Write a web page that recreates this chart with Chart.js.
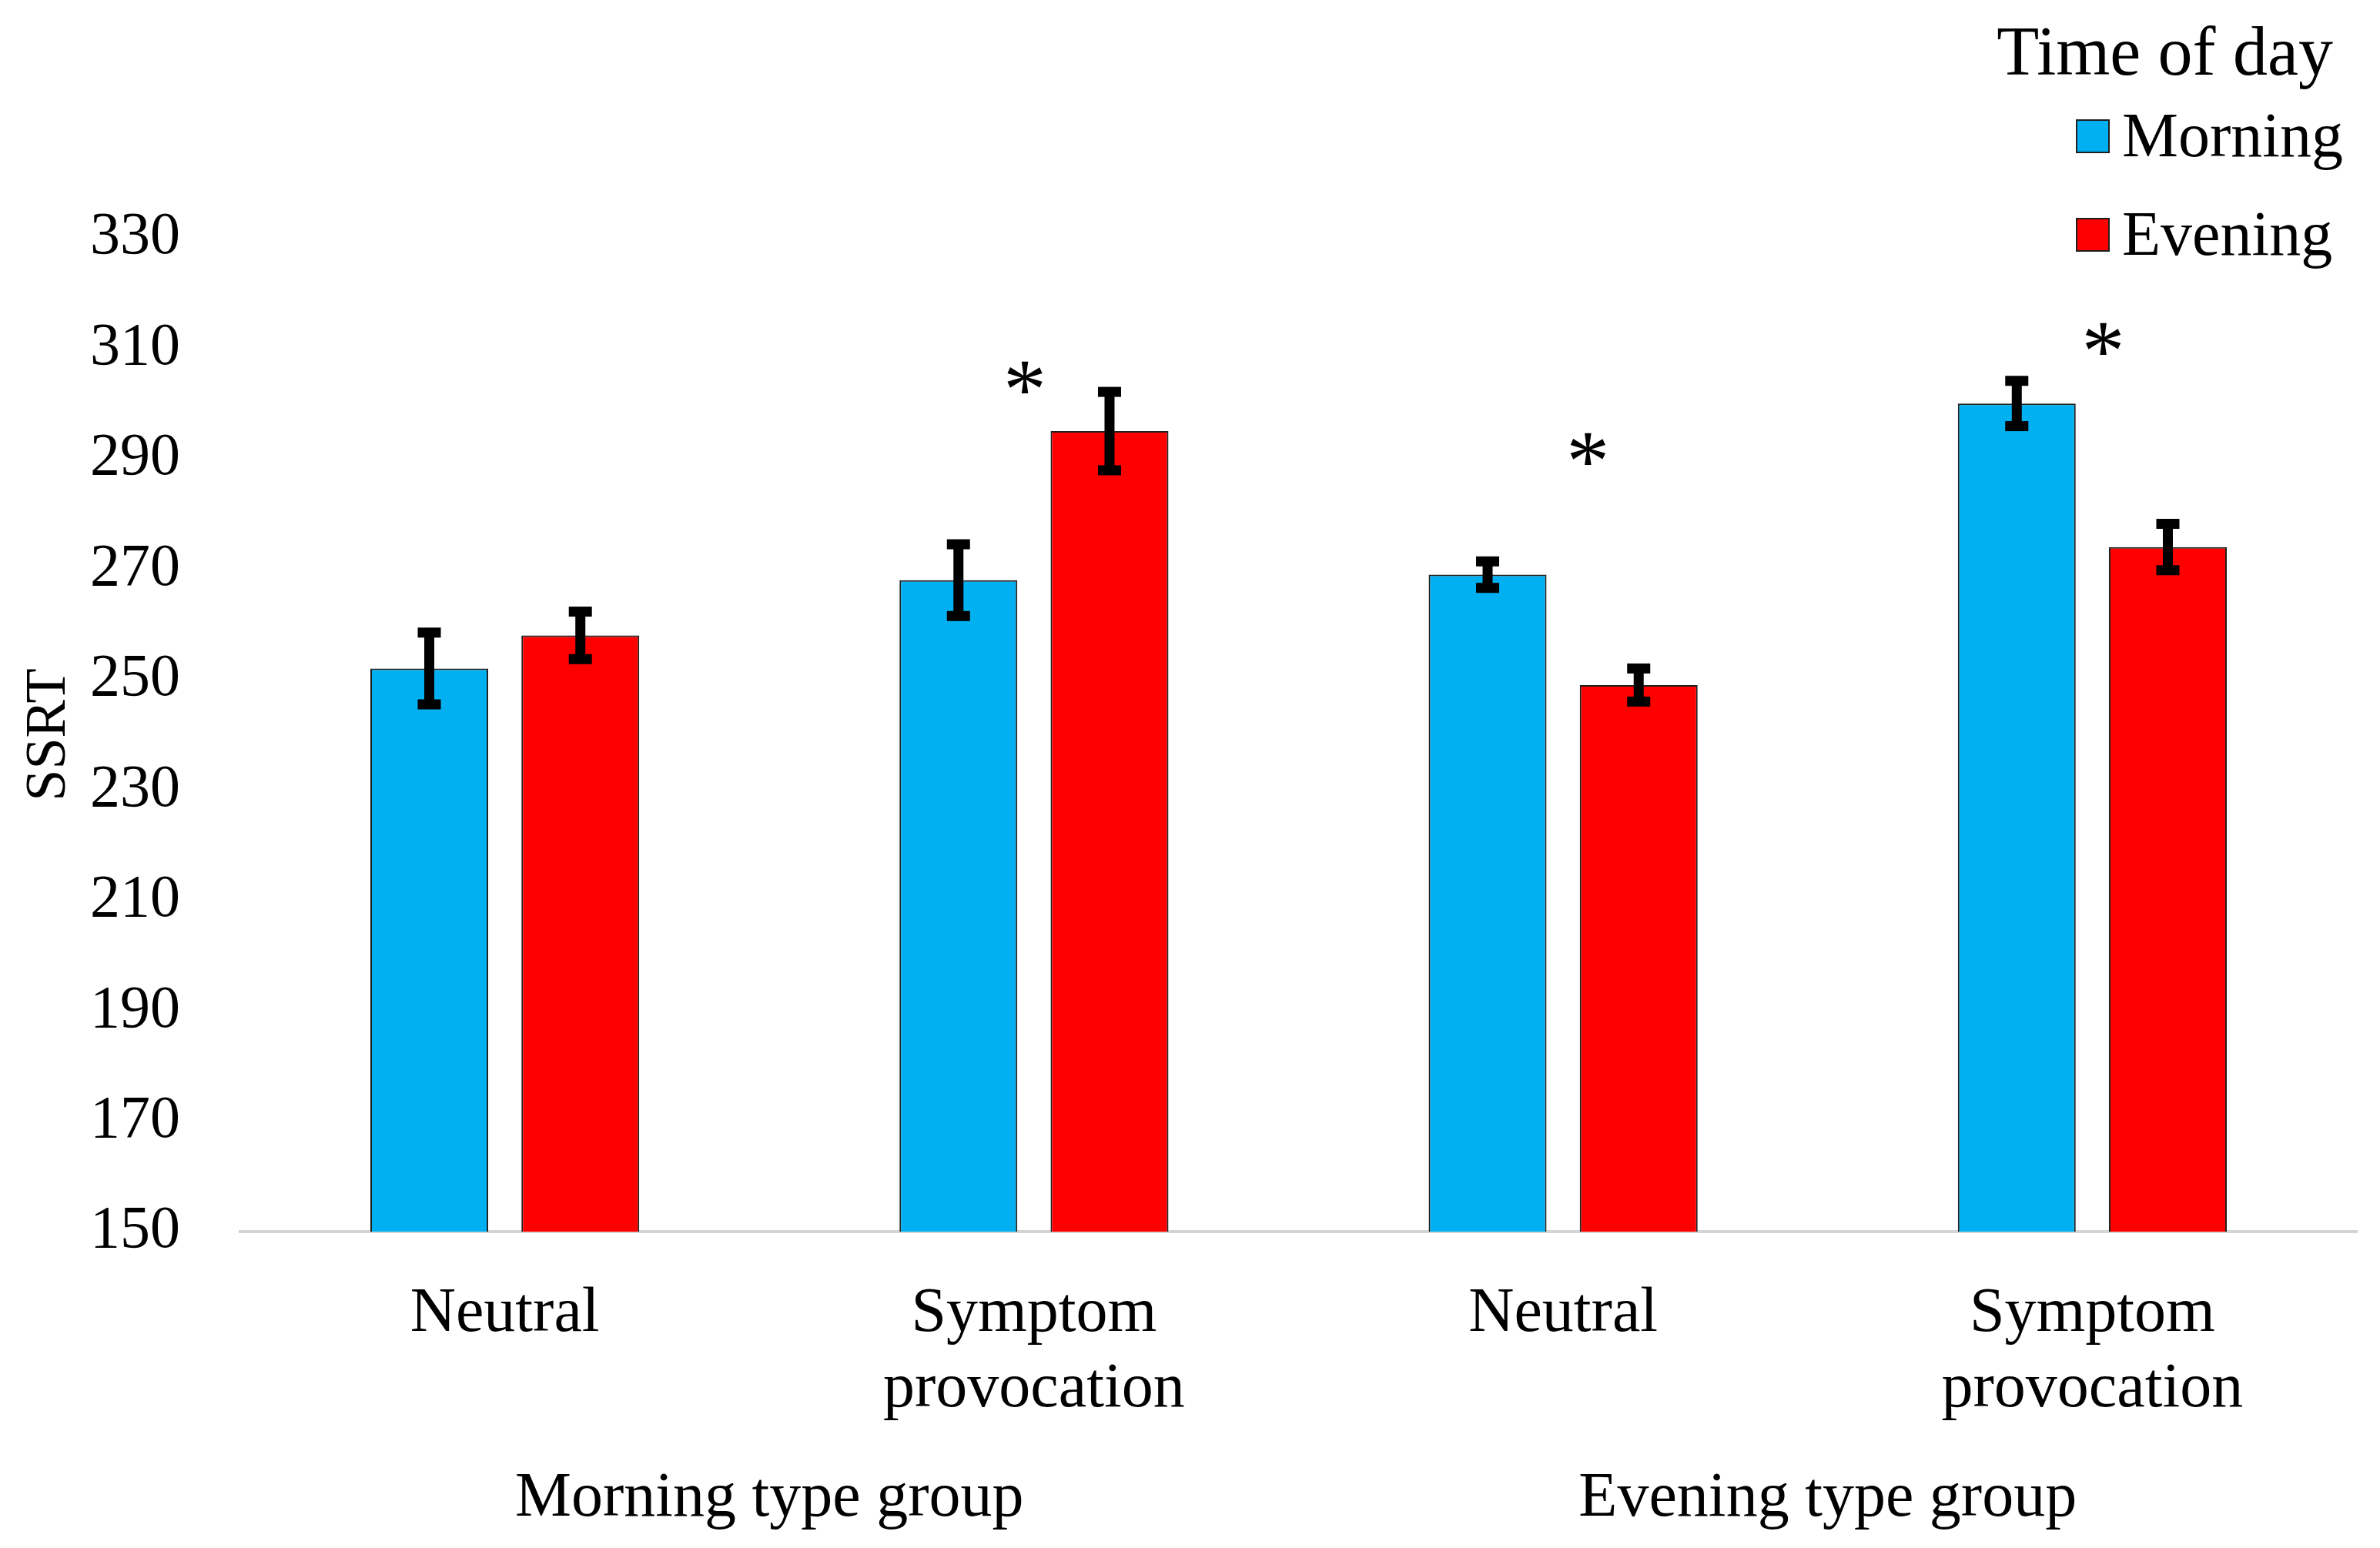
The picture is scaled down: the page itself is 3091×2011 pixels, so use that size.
<!DOCTYPE html>
<html>
<head>
<meta charset="utf-8">
<script src="https://cdn.jsdelivr.net/npm/chart.js@4.4.1/dist/chart.umd.min.js"></script>
<style>
html, body { margin: 0; padding: 0; background: #fff; }
canvas { display: block; }
</style>
</head>
<body>
<canvas id="ssrtChart" width="3091" height="2011"></canvas>
<script>
// data
var conditions = ['Neutral', ['Symptom', 'provocation'], 'Neutral', ['Symptom', 'provocation']];
var groups = ['Morning type group', 'Evening type group'];
var morningValues = [252, 268, 269, 300];
var eveningValues = [258, 295, 249, 274];
var morningErrors = [6.5, 6.5, 2.4, 4.1];
var eveningErrors = [4.3, 7.1, 3.0, 4.2];
var starCategories = [1, 2, 3];
var starValues = [305, 292, 312];

var serif = "'Liberation Serif', 'Times New Roman', serif";
Chart.defaults.font.family = serif;
Chart.defaults.color = '#000';

// error bars on top of each bar
var errorBars = {
  id: 'errorBars',
  afterDatasetsDraw: function (chart) {
    var ctx = chart.ctx;
    var y = chart.scales.y;
    var errs = [morningErrors, eveningErrors];
    ctx.save();
    ctx.fillStyle = '#000';
    chart.data.datasets.forEach(function (ds, d) {
      chart.getDatasetMeta(d).data.forEach(function (bar, i) {
        var top = y.getPixelForValue(ds.data[i] + errs[d][i]);
        var bot = y.getPixelForValue(ds.data[i] - errs[d][i]);
        ctx.fillRect(bar.x - 6.5, top, 13, bot - top);
        ctx.fillRect(bar.x - 15, top - 6.5, 30, 13);
        ctx.fillRect(bar.x - 15, bot - 6.5, 30, 13);
      });
    });
    ctx.restore();
  }
};

// significance stars
var stars = {
  id: 'stars',
  afterDatasetsDraw: function (chart) {
    var ctx = chart.ctx;
    var shift = [-12, 32, 14];
    ctx.save();
    ctx.font = '112px ' + serif;
    ctx.textAlign = 'center';
    ctx.textBaseline = 'middle';
    ctx.fillStyle = '#000';
    starCategories.forEach(function (c, i) {
      var px = chart.scales.x.getPixelForValue(c) + shift[i];
      var py = chart.scales.y.getPixelForValue(starValues[i]);
      ctx.fillText('*', px, py + 25);
    });
    ctx.restore();
  }
};

// legend at top right
var sideLegend = {
  id: 'sideLegend',
  afterDraw: function (chart) {
    var ctx = chart.ctx;
    ctx.save();
    ctx.fillStyle = '#000';
    ctx.textBaseline = 'middle';
    ctx.textAlign = 'right';
    ctx.font = '90px ' + serif;
    ctx.fillText('Time of day', 3030, 73);
    ctx.textAlign = 'left';
    ctx.font = '82px ' + serif;
    chart.data.datasets.forEach(function (ds, d) {
      var cy = 177 + d * 128;
      ctx.fillStyle = ds.backgroundColor;
      ctx.fillRect(2697, cy - 21, 42, 42);
      ctx.strokeStyle = '#1f1f1f';
      ctx.lineWidth = 2;
      ctx.strokeRect(2697, cy - 21, 42, 42);
      ctx.fillStyle = '#000';
      ctx.fillText(ds.label, 2756, cy + 4);
    });
    ctx.restore();
  }
};

var ctx = document.getElementById('ssrtChart').getContext('2d');
var ssrtChart = new Chart(ctx, {
  type: 'bar',
  data: {
    labels: conditions,
    datasets: [{
      label: 'Morning',
      data: morningValues,
      backgroundColor: '#00B0F0',
      borderColor: '#1f1f1f',
      borderWidth: 2
    }, {
      label: 'Evening',
      data: eveningValues,
      backgroundColor: '#FF0000',
      borderColor: '#1f1f1f',
      borderWidth: 2
    }]
  },
  plugins: [errorBars, stars, sideLegend],
  options: {
    responsive: false,
    devicePixelRatio: 1,
    animation: false,
    layout: { padding: { top: 309, right: 30, bottom: 0, left: 0 } },
    plugins: { legend: { display: false }, tooltip: { enabled: false } },
    datasets: { bar: { categoryPercentage: 0.571, barPercentage: 0.78 } },
    scales: {
      x: {
        grid: { display: false },
        border: { display: true, color: '#d4d4d4', width: 4 },
        ticks: { font: { size: 82 }, padding: 50, maxRotation: 0, autoSkip: false },
        afterFit: function (s) { s.height = 290; }
      },
      x2: {
        type: 'category',
        labels: groups,
        position: 'bottom',
        grid: { display: false },
        border: { display: false },
        ticks: { font: { size: 82 }, padding: 0, maxRotation: 0 },
        afterFit: function (s) { s.height = 121; }
      },
      y: {
        min: 150,
        max: 330,
        grid: { display: false },
        border: { display: false },
        ticks: { stepSize: 20, font: { size: 78 }, padding: 70 },
        title: { display: true, text: 'SSRT', font: { size: 74 }, padding: { top: 20, bottom: 0 } },
        afterFit: function (s) { s.width = 312; }
      }
    }
  }
});
</script>
</body>
</html>
